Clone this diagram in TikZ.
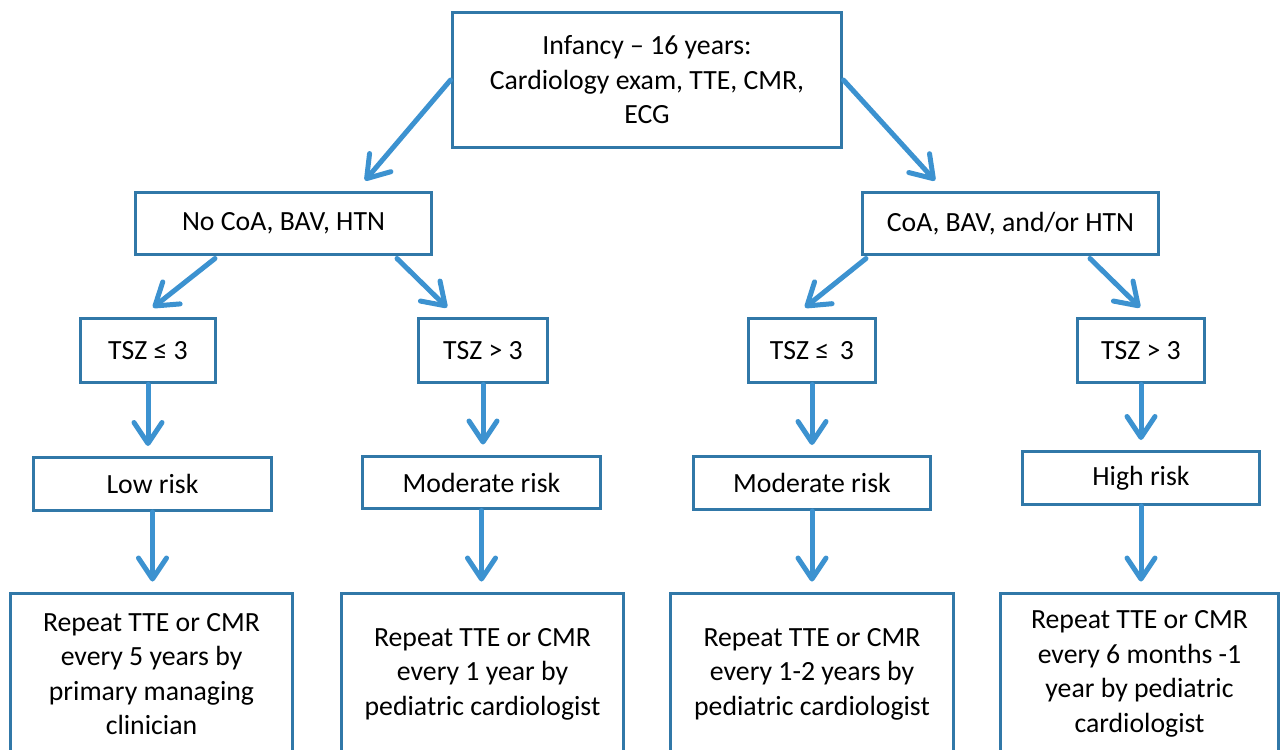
\documentclass[tikz,border=0pt]{standalone}
\usepackage{fontspec}
\setmainfont{Carlito}
\usetikzlibrary{calc,arrows.meta}
\tikzset{
  box/.style={
    draw=boxblue,
    line width=0.06cm,
    fill=white,
    align=center,
    inner sep=2pt,
    font=\fontsize{15.8}{19.6}\selectfont
  },
  box-top/.style={box, minimum width=7.8cm, minimum height=2.72cm},
  box-cond/.style={box, minimum width=5.92cm, minimum height=1.26cm},
  box-tsz/.style={box, minimum width=2.6cm, minimum height=1.3cm},
  box-risk/.style={box, minimum width=4.76cm, minimum height=1.06cm},
  box-plan/.style={box, minimum width=5.66cm, minimum height=3.24cm},
  flow/.style={
    draw=arrowblue,
    line width=0.1cm,
    line cap=round,
    -{Straight Barb[length=0.42cm,width=0.56cm,line cap=round,line join=round]}
  },
  flow-down/.style={flow, shorten >=0.2cm}
}
\definecolor{boxblue}{RGB}{49,120,168}
\definecolor{arrowblue}{RGB}{60,146,208}

\begin{document}
\begin{tikzpicture}[x=0.02cm, y=-0.02cm]
  \useasboundingbox (0,0) rectangle (1282,750);
  \clip (0,0) rectangle (1282,750);

  % --- first visit ---
  \node[box-top] (visit) at (647,80)
    {Infancy -- 16 years:\\Cardiology exam, TTE, CMR,\\ECG};

  % --- findings ---
  \node[box-cond] (nocoa) at (283.5,223.5) {No CoA, BAV, HTN};
  \node[box-cond] (coa)   at (1010.5,223.5) {CoA, BAV, and/or HTN};

  % --- aortic z-score ---
  \node[box-tsz, minimum width=2.72cm] (tszA) at (148,350.5) {TSZ ≤ 3};
  \node[box-tsz]                       (tszB) at (483,350.5) {TSZ > 3};
  \node[box-tsz, minimum width=2.54cm] (tszC) at (812,350.5) {TSZ ≤ \,3};
  \node[box-tsz, minimum width=2.56cm] (tszD) at (1141,350.5) {TSZ > 3};

  % --- risk groups ---
  \node[box-risk] (low)  at (152.5,484) {Low risk};
  \node[box-risk] (modA) at (481.5,482.5) {Moderate risk};
  \node[box-risk] (modB) at (812,483) {Moderate risk};
  \node[box-risk] (high) at (1141,478) {High risk};

  % --- follow-up (cut off at the bottom) ---
  \node[box-plan] (repA) at (151.5,674)
    {Repeat TTE or CMR\\every 5 years by\\primary managing\\clinician};
  \node[box-plan] (repB) at (482.5,674)
    {Repeat TTE or CMR\\every 1 year by\\pediatric cardiologist};
  \node[box-plan] (repC) at (812,674)
    {Repeat TTE or CMR\\every 1-2 years by\\pediatric cardiologist};
  \node[box-plan, minimum width=5.58cm] (repD) at (1139.5,674)
    {Repeat TTE or CMR\\every 6 months -1\\year by pediatric\\cardiologist};

  % --- diagonal arrows ---
  \draw[flow] (visit.west) -- ($(nocoa.north)+(81.5,-10)$);
  \draw[flow] (visit.east) -- ($(coa.north)+(-75.5,-10)$);
  \draw[flow] ($(nocoa.south)+(-68.5,2)$) -- ($(tszA.north)+(5,-9)$);
  \draw[flow] ($(nocoa.south)+(113.5,2)$) -- ($(tszB.north)+(-36,-9)$);
  \draw[flow] ($(coa.south)+(-144.5,2)$) -- ($(tszC.north)+(-7,-9)$);
  \draw[flow] ($(coa.south)+(79.5,2)$) -- ($(tszD.north)+(-1,-9)$);

  % --- straight down ---
  \draw[flow-down] (tszA.south) -- (tszA.south |- low.north);
  \draw[flow-down] (tszB.south) -- (tszB.south |- modA.north);
  \draw[flow-down] (tszC.south) -- (tszC.south |- modB.north);
  \draw[flow-down] (tszD.south) -- (tszD.south |- high.north);
  \draw[flow-down] (low.south)  -- (low.south |- repA.north);
  \draw[flow-down] (modA.south) -- (modA.south |- repB.north);
  \draw[flow-down] (modB.south) -- (modB.south |- repC.north);
  \draw[flow-down] (high.south) -- (high.south |- repD.north);
\end{tikzpicture}
\end{document}
